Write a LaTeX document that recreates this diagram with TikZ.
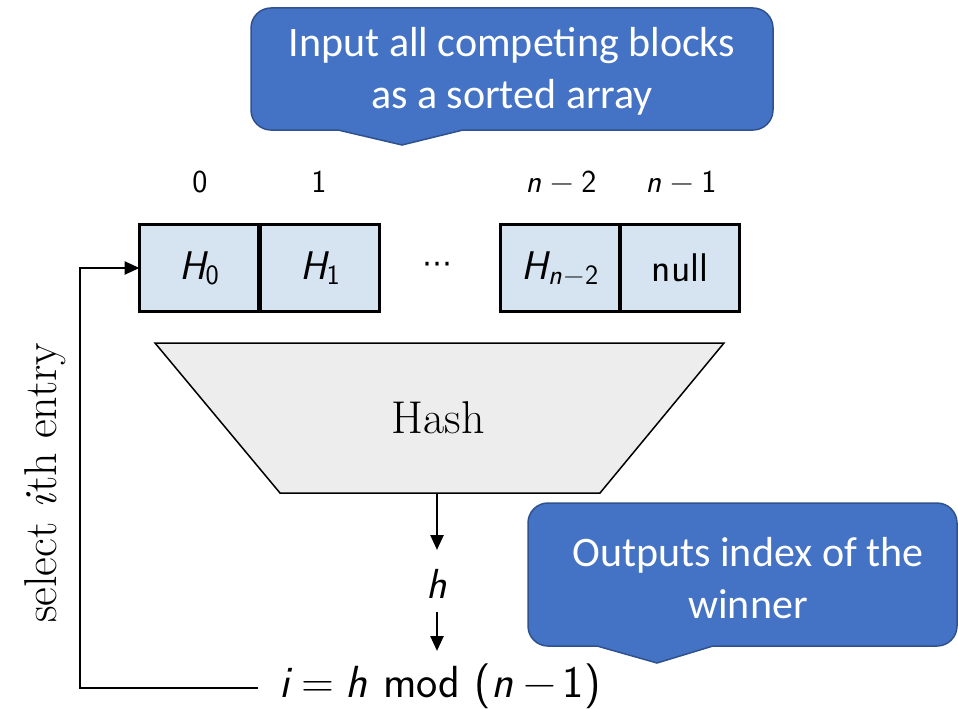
\documentclass[tikz,border=0pt]{standalone}
\usepackage{fontspec}
\newfontfamily\callfont{Carlito}
\newfontfamily\symfont{DejaVu Sans}
\usetikzlibrary{arrows.meta}
\definecolor{callfill}{HTML}{4472C4}
\definecolor{calldraw}{HTML}{2F528F}
\definecolor{cellfill}{HTML}{D6E4F2}
\definecolor{hashfill}{HTML}{EDEDED}
\newcommand\mi[1]{{\sffamily\itshape #1}}
\newcommand\subs[1]{\raisebox{-5pt}{\fontsize{28}{32}\selectfont #1}}
\tikzset{
  callshape/.style={draw=calldraw, fill=callfill, line width=1.5pt},
  calltext/.style={text=white, align=center, font=\callfont\fontsize{42}{52}\selectfont},
  cell/.style={draw=black, fill=cellfill, line width=3pt, minimum width=119pt, minimum height=87pt, inner sep=0pt, outer sep=0pt, font=\sffamily\fontsize{40}{46}\selectfont},
  idx/.style={font=\sffamily\fontsize{32}{36}\selectfont},
  arr/.style={line width=2.5pt, -{Triangle[length=15pt,width=13pt]}},
}
\begin{document}
\begin{tikzpicture}[x=1pt,y=-1pt]
\useasboundingbox (0,0) rectangle (958,709);
% top callout
\path[callshape] (402,145) -- (463,130) {[rounded corners=20pt] -- (773,130) -- (773,8) -- (251,8) -- (251,130)} -- (338,130) -- cycle;
\node[calltext] (call1) at (512,71) {Input all competing blocks\\as a sorted array};
% indices
\node[idx] (i0) at (200,182) {0};
\node[idx] (i1) at (319,182) {1};
\node[idx] (i2) at (561,182) {\mi{n}\hspace{9pt}−\hspace{8pt}2};
\node[idx] (i3) at (681,182) {\mi{n}\hspace{9pt}−\hspace{8pt}1};
% cells
\node[cell] (c0) at (199,268) {\mi{H}\subs{0}};
\node[cell] (c1) at (320,268) {\mi{H}\subs{1}};
\node[font=\symfont\fontsize{30}{34}\selectfont] (dots) at (437,268) {⋯};
\node[cell] (c2) at (560,268) {\mi{H}\subs{\mi{n}\hspace{2pt}−\hspace{1pt}2}};
\node[cell] (c3) at (680,268) {null};
% hash trapezoid
\draw[fill=hashfill, line width=1.5pt] (155,343) -- (724,343) -- (600,493) -- (280,493) -- cycle;
\node[font=\fontsize{46}{52}\selectfont] (hash) at (438,418) {Hash};
\coordinate (hb) at (437,493);
\coordinate (ha) at (437,550);
\node[font=\sffamily\fontsize{42}{48}\selectfont] (h) at (437,584) {\mi{h}};
\coordinate (hc) at (437,612);
\coordinate (hd) at (437,651);
\draw[arr] (hb) -- (ha);
\draw[arr] (hc) -- (hd);
% equation
\node[font=\sffamily\fontsize{45}{50}\selectfont] (eq) at (440,686) {\mi{i}\hspace{12pt}=\hspace{11pt}\mi{h}\hspace{16pt}mod\hspace{14pt}(\mi{n}\hspace{10pt}−\hspace{7pt}1)};
\coordinate (eqw) at (258,688);
\coordinate (lc) at (80,688);
\draw[arr] (eqw) -- (lc) |- (c0.west);
\node[rotate=90, font=\fontsize{46}{52}\selectfont] (sel) at (45,483) {select \textit{i}th entry};
% bottom callout
\path[callshape] (657,663) -- (713,646) {[rounded corners=20pt] -- (957,646) -- (957,503) -- (528,503) -- (528,646)} -- (597,646) -- cycle;
\node[calltext] (call2) at (748,578) {Outputs index of the\\winner};
\end{tikzpicture}
\end{document}
